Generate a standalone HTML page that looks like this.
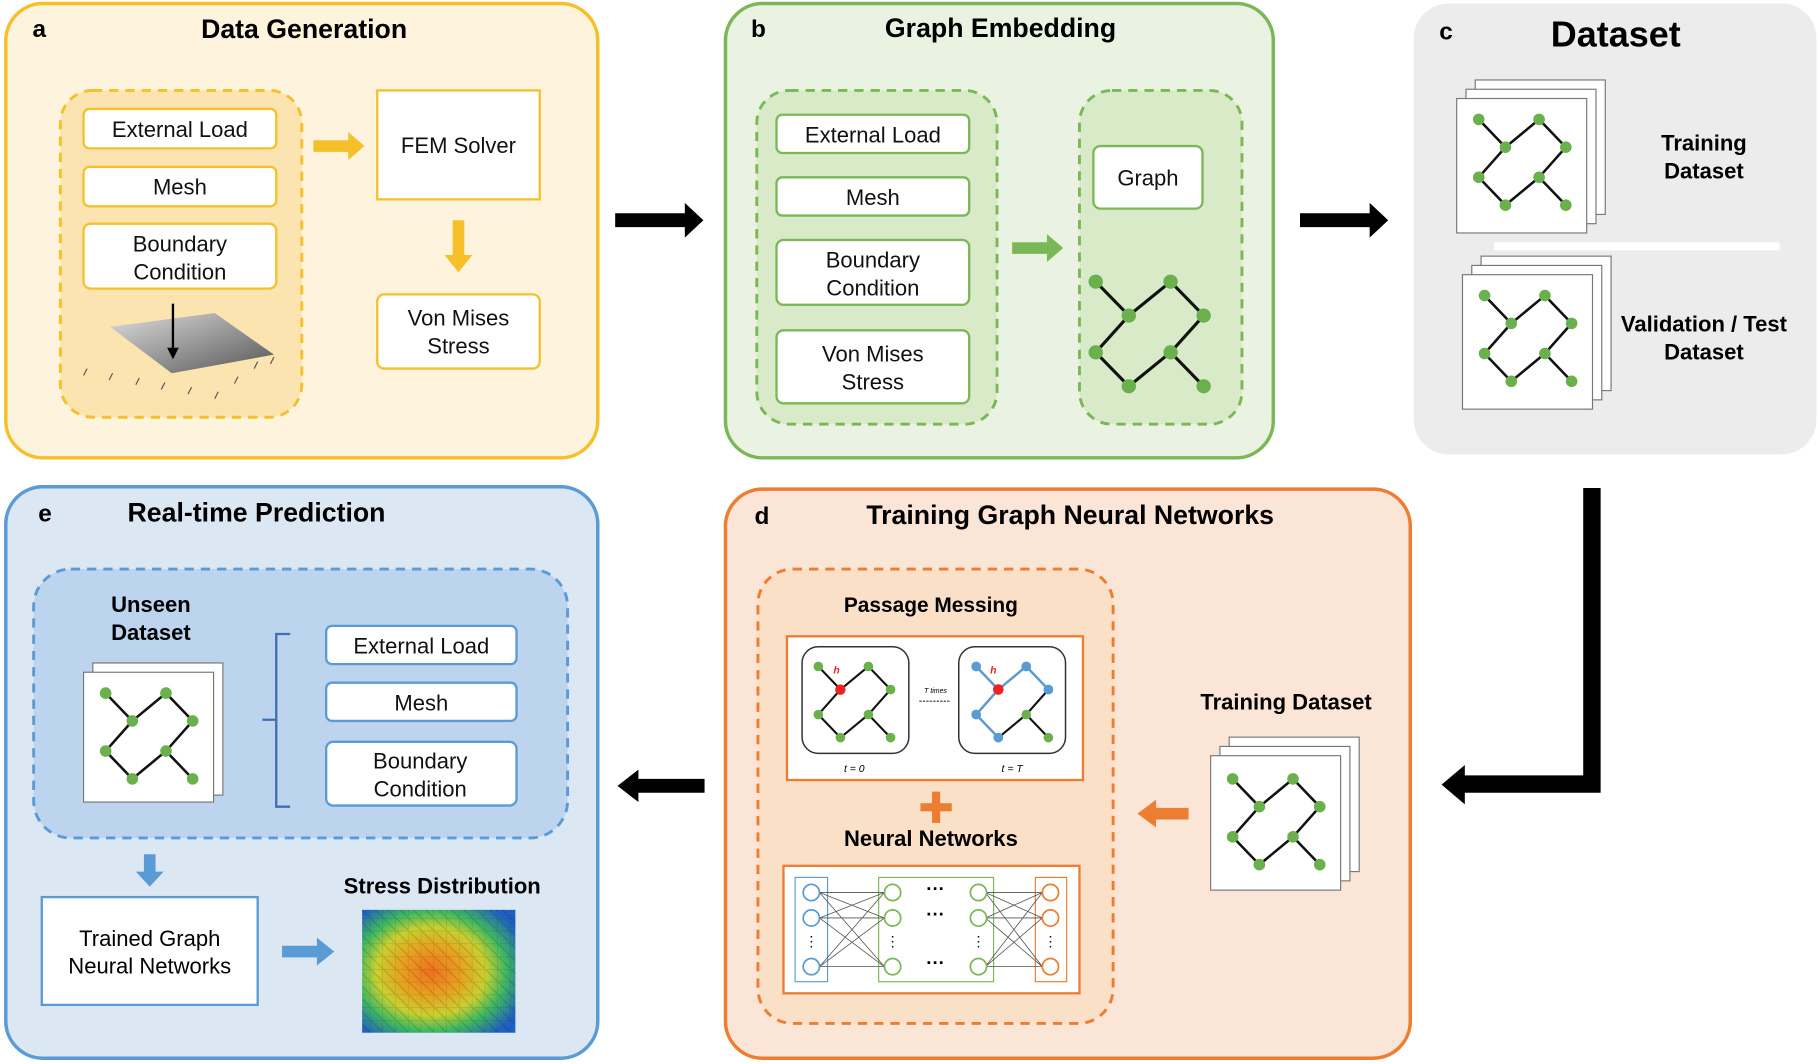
<!DOCTYPE html>
<html><head><meta charset="utf-8"><style>
html,body{margin:0;padding:0;background:#fff}
svg{display:block}
text{font-family:"Liberation Sans",Arial,sans-serif}
</style></head><body>
<svg width="1820" height="1064" viewBox="0 0 1568 918" preserveAspectRatio="none" xmlns="http://www.w3.org/2000/svg">
<defs>
<g id="gr">
<g stroke="#111" stroke-width="2.2">
<line x1="0" y1="0" x2="23" y2="24"/><line x1="23" y1="24" x2="52" y2="0"/><line x1="52" y1="0" x2="75" y2="24"/>
<line x1="23" y1="24" x2="0" y2="50"/><line x1="75" y1="24" x2="52" y2="50"/><line x1="0" y1="50" x2="23" y2="74"/>
<line x1="23" y1="74" x2="52" y2="50"/><line x1="52" y1="50" x2="75" y2="74"/>
</g>
<g fill="#6ab04c"><circle cx="0" cy="0" r="5"/><circle cx="52" cy="0" r="5"/><circle cx="23" cy="24" r="5"/><circle cx="75" cy="24" r="5"/><circle cx="0" cy="50" r="5"/><circle cx="52" cy="50" r="5"/><circle cx="23" cy="74" r="5"/><circle cx="75" cy="74" r="5"/></g>
</g>
<g id="stack">
<rect x="16" y="-16" width="112" height="116" fill="#fff" stroke="#777"/>
<rect x="8" y="-8" width="112" height="116" fill="#fff" stroke="#777"/>
<rect x="0" y="0" width="112" height="116" fill="#fff" stroke="#777"/>
</g>
<radialGradient id="heat" cx="0.45" cy="0.5" r="0.65">
<stop offset="0" stop-color="#f07020"/><stop offset="0.3" stop-color="#e8a020"/><stop offset="0.55" stop-color="#c8d030"/><stop offset="0.75" stop-color="#40b860"/><stop offset="1" stop-color="#2060c0"/>
</radialGradient>
<pattern id="tri" width="11" height="11" patternUnits="userSpaceOnUse"><path d="M0 0L11 11M0 0H11V11" stroke="#000" stroke-opacity="0.15" fill="none"/></pattern>
<linearGradient id="plate" x1="0" y1="0" x2="1" y2="1"><stop offset="0" stop-color="#ddd"/><stop offset="1" stop-color="#555"/></linearGradient>
</defs>

<!-- panel a -->
<rect x="5" y="3" width="510" height="392" rx="32" fill="#fef3dc" stroke="#f5c02a" stroke-width="3"/>
<text x="28" y="32" font-size="21" font-weight="bold">a</text>
<text x="262" y="33" font-size="23" font-weight="bold" text-anchor="middle">Data Generation</text>
<rect x="52" y="78" width="208" height="282" rx="28" fill="#fce4b0" stroke="#f5c02a" stroke-width="2.5" stroke-dasharray="8,6"/>
<g fill="#fff" stroke="#f5c02a" stroke-width="2">
<rect x="72" y="94" width="166" height="34" rx="5"/><rect x="72" y="144" width="166" height="34" rx="5"/><rect x="72" y="193" width="166" height="56" rx="6"/>
<rect x="325" y="78" width="140" height="94"/><rect x="325" y="254" width="140" height="64" rx="6"/>
</g>
<g font-size="19" text-anchor="middle" fill="#111">
<text x="155" y="118">External Load</text><text x="155" y="168">Mesh</text><text x="155" y="217">Boundary</text><text x="155" y="241">Condition</text>
<text x="395" y="132">FEM Solver</text><text x="395" y="281">Von Mises</text><text x="395" y="305">Stress</text>
</g>
<polygon points="95,282 185,270 236,306 148,322" fill="url(#plate)"/>
<line x1="149" y1="262" x2="149" y2="303" stroke="#000" stroke-width="2"/><polygon points="144,300 154,300 149,310" fill="#000"/>
<g stroke="#555" stroke-width="1"><path d="M75 318l-3 6M97 322l-3 6M120 326l-3 6M142 330l-3 6M165 334l-3 6M188 338l-3 6M205 325l-3 6M222 312l-3 6M236 308l-3 6"/></g>
<polygon points="270,121 300,121 300,114 314,126 300,138 300,131 270,131" fill="#f5c02a"/>
<polygon points="390,190 400,190 400,220 407,220 395,235 383,220 390,220" fill="#f5c02a"/>

<!-- arrow a->b -->
<polygon points="530,184 590,184 590,175 606,190 590,205 590,196 530,196" fill="#000"/>

<!-- panel b -->
<rect x="625" y="3" width="472" height="392" rx="32" fill="#eaf3e2" stroke="#7ab857" stroke-width="3"/>
<text x="647" y="32" font-size="21" font-weight="bold">b</text>
<text x="862" y="32" font-size="23" font-weight="bold" text-anchor="middle">Graph Embedding</text>
<rect x="652" y="78" width="207" height="288" rx="28" fill="#d8eac8" stroke="#7ab857" stroke-width="2.5" stroke-dasharray="8,6"/>
<rect x="930" y="78" width="140" height="288" rx="28" fill="#d8eac8" stroke="#7ab857" stroke-width="2.5" stroke-dasharray="8,6"/>
<g fill="#fff" stroke="#7ab857" stroke-width="2">
<rect x="669" y="99" width="166" height="33" rx="5"/><rect x="669" y="153" width="166" height="33" rx="5"/><rect x="669" y="207" width="166" height="56" rx="6"/><rect x="669" y="285" width="166" height="63" rx="6"/>
<rect x="942" y="126" width="94" height="54" rx="6"/>
</g>
<g font-size="19" text-anchor="middle" fill="#111">
<text x="752" y="123">External Load</text><text x="752" y="177">Mesh</text><text x="752" y="231">Boundary</text><text x="752" y="255">Condition</text>
<text x="752" y="312">Von Mises</text><text x="752" y="336">Stress</text><text x="989" y="160">Graph</text>
</g>
<use href="#gr" transform="translate(944,243) scale(1.24,1.22)"/>
<polygon points="872,209 902,209 902,202 916,214 902,226 902,219 872,219" fill="#7ab857"/>

<!-- arrow b->c -->
<polygon points="1120,184 1180,184 1180,175 1196,190 1180,205 1180,196 1120,196" fill="#000"/>

<!-- panel c -->
<rect x="1218" y="3" width="347" height="389" rx="30" fill="#ececec"/>
<text x="1240" y="34" font-size="21" font-weight="bold">c</text>
<text x="1392" y="40" font-size="31" font-weight="bold" text-anchor="middle">Dataset</text>
<use href="#stack" transform="translate(1255,85)"/>
<use href="#gr" transform="translate(1274,103)"/>
<text x="1468" y="130" font-size="19" font-weight="bold" text-anchor="middle">Training</text>
<text x="1468" y="154" font-size="19" font-weight="bold" text-anchor="middle">Dataset</text>
<rect x="1287" y="209" width="246" height="7" fill="#fff"/>
<use href="#stack" transform="translate(1260,237)"/>
<use href="#gr" transform="translate(1279,255)"/>
<text x="1468" y="286" font-size="19" font-weight="bold" text-anchor="middle">Validation / Test</text>
<text x="1468" y="310" font-size="19" font-weight="bold" text-anchor="middle">Dataset</text>

<!-- arrow c->d -->
<polygon points="1364,421 1379,421 1379,684 1262,684 1262,694 1242,677 1262,660 1262,669 1364,669" fill="#000"/>

<!-- panel d -->
<rect x="625" y="422" width="590" height="491" rx="32" fill="#fbe5d6" stroke="#ed7d31" stroke-width="3"/>
<text x="650" y="452" font-size="21" font-weight="bold">d</text>
<text x="922" y="452" font-size="23" font-weight="bold" text-anchor="middle">Training Graph Neural Networks</text>
<rect x="653" y="491" width="306" height="392" rx="30" fill="#fbe0c8" stroke="#ed7d31" stroke-width="2.5" stroke-dasharray="8,6"/>
<text x="802" y="528" font-size="18" font-weight="bold" text-anchor="middle">Passage Messing</text>
<rect x="678" y="549" width="255" height="124" fill="#fff" stroke="#ed7d31" stroke-width="2"/>
<rect x="691" y="558" width="92" height="92" rx="14" fill="#fff" stroke="#333" stroke-width="1.3"/>
<rect x="826" y="558" width="92" height="92" rx="14" fill="#fff" stroke="#333" stroke-width="1.3"/>
<use href="#gr" transform="translate(705,575) scale(0.83,0.83)"/>
<circle cx="724" cy="595" r="4.5" fill="#e22"/>
<g transform="translate(841,575) scale(0.83,0.83)">
<use href="#gr"/>
<g fill="#5b9bd5"><circle cx="0" cy="0" r="5"/><circle cx="52" cy="0" r="5"/><circle cx="75" cy="24" r="5"/><circle cx="0" cy="50" r="5"/><circle cx="23" cy="74" r="5"/></g>
<g stroke="#5b9bd5" stroke-width="2.4"><line x1="0" y1="0" x2="23" y2="24"/><line x1="23" y1="24" x2="52" y2="0"/><line x1="52" y1="0" x2="75" y2="24"/><line x1="23" y1="24" x2="0" y2="50"/><line x1="0" y1="50" x2="23" y2="74"/></g>
<circle cx="23" cy="24" r="5.5" fill="#e22"/>
</g>
<text x="718" y="581" font-size="9" fill="#e22" font-style="italic" font-weight="bold">h</text>
<text x="853" y="581" font-size="9" fill="#e22" font-style="italic" font-weight="bold">h</text>
<text x="806" y="598" font-size="6" text-anchor="middle" font-style="italic">T times</text>
<line x1="792" y1="605" x2="818" y2="605" stroke="#333" stroke-dasharray="2,1"/>
<text x="736" y="666" font-size="9" text-anchor="middle" font-style="italic">t = 0</text>
<text x="872" y="666" font-size="9" text-anchor="middle" font-style="italic">t = T</text>
<rect x="793" y="693" width="27" height="7" fill="#ed7d31"/><rect x="803" y="683" width="7" height="27" fill="#ed7d31"/>
<text x="802" y="730" font-size="19" font-weight="bold" text-anchor="middle">Neural Networks</text>
<rect x="675" y="747" width="255" height="110" fill="#fff" stroke="#ed7d31" stroke-width="2"/>
<rect x="685" y="757" width="28" height="90" fill="none" stroke="#5b9bd5"/>
<rect x="757" y="757" width="99" height="90" fill="none" stroke="#7ab857"/>
<rect x="892" y="757" width="27" height="90" fill="none" stroke="#ed7d31"/>
<g stroke="#555" stroke-width="0.7">
<path d="M706 770L762 770M706 770L762 792M706 770L762 834M706 792L762 770M706 792L762 792M706 792L762 834M706 834L762 770M706 834L762 792M706 834L762 834"/>
<path d="M849 770L898 770M849 770L898 792M849 770L898 834M849 792L898 770M849 792L898 792M849 792L898 834M849 834L898 770M849 834L898 792M849 834L898 834"/>
</g>
<g fill="#fff" stroke-width="1.5">
<g stroke="#5b9bd5"><circle cx="699" cy="770" r="7"/><circle cx="699" cy="792" r="7"/><circle cx="699" cy="834" r="7"/></g>
<g stroke="#7ab857"><circle cx="769" cy="770" r="7"/><circle cx="769" cy="792" r="7"/><circle cx="769" cy="834" r="7"/><circle cx="843" cy="770" r="7"/><circle cx="843" cy="792" r="7"/><circle cx="843" cy="834" r="7"/></g>
<g stroke="#ed7d31"><circle cx="905" cy="770" r="7"/><circle cx="905" cy="792" r="7"/><circle cx="905" cy="834" r="7"/></g>
</g>
<g font-size="16" font-weight="bold" text-anchor="middle"><text x="806" y="772">···</text><text x="806" y="794">···</text><text x="806" y="836">···</text></g>
<g font-size="12" text-anchor="middle"><text x="699" y="816">⋮</text><text x="769" y="816">⋮</text><text x="843" y="816">⋮</text><text x="905" y="816">⋮</text></g>
<text x="1108" y="612" font-size="19" font-weight="bold" text-anchor="middle">Training Dataset</text>
<use href="#stack" transform="translate(1043,652)"/>
<use href="#gr" transform="translate(1062,672)"/>
<polygon points="1024,697 996,697 996,690 980,702 996,714 996,707 1024,707" fill="#ed7d31"/>

<!-- arrow d->e -->
<polygon points="607,672 550,672 550,664 532,678 550,692 550,684 607,684" fill="#000"/>

<!-- panel e -->
<rect x="5" y="420" width="510" height="493" rx="32" fill="#dce7f4" stroke="#5b9bd5" stroke-width="3"/>
<text x="33" y="450" font-size="21" font-weight="bold">e</text>
<text x="221" y="450" font-size="23" font-weight="bold" text-anchor="middle">Real-time Prediction</text>
<rect x="29" y="491" width="460" height="232" rx="32" fill="#bcd4ee" stroke="#5b9bd5" stroke-width="2.5" stroke-dasharray="8,6"/>
<text x="130" y="528" font-size="19" font-weight="bold" text-anchor="middle">Unseen</text>
<text x="130" y="552" font-size="19" font-weight="bold" text-anchor="middle">Dataset</text>
<rect x="80" y="572" width="112" height="114" fill="#fff" stroke="#777"/>
<rect x="72" y="580" width="112" height="112" fill="#fff" stroke="#777"/>
<use href="#gr" transform="translate(91,598)"/>
<path d="M250 547H238V696H250M238 621H226" fill="none" stroke="#3d6fb5" stroke-width="2"/>
<g fill="#fff" stroke="#5b9bd5" stroke-width="2">
<rect x="281" y="540" width="164" height="33" rx="5"/><rect x="281" y="589" width="164" height="33" rx="5"/><rect x="281" y="640" width="164" height="55" rx="6"/>
</g>
<g font-size="19" text-anchor="middle" fill="#111">
<text x="363" y="564">External Load</text><text x="363" y="613">Mesh</text><text x="362" y="663">Boundary</text><text x="362" y="687">Condition</text>
</g>
<polygon points="124,737 134,737 134,752 141,752 129,765 117,752 124,752" fill="#5b9bd5"/>
<rect x="36" y="774" width="186" height="93" fill="#fff" stroke="#5b9bd5" stroke-width="2"/>
<text x="129" y="816" font-size="19" text-anchor="middle">Trained Graph</text>
<text x="129" y="840" font-size="19" text-anchor="middle">Neural Networks</text>
<polygon points="243,816 273,816 273,809 288,821 273,833 273,826 243,826" fill="#5b9bd5"/>
<text x="381" y="771" font-size="19" font-weight="bold" text-anchor="middle">Stress Distribution</text>
<rect x="312" y="785" width="132" height="106" fill="url(#heat)"/>
<rect x="312" y="785" width="132" height="106" fill="url(#tri)"/>
</svg>
</body></html>
